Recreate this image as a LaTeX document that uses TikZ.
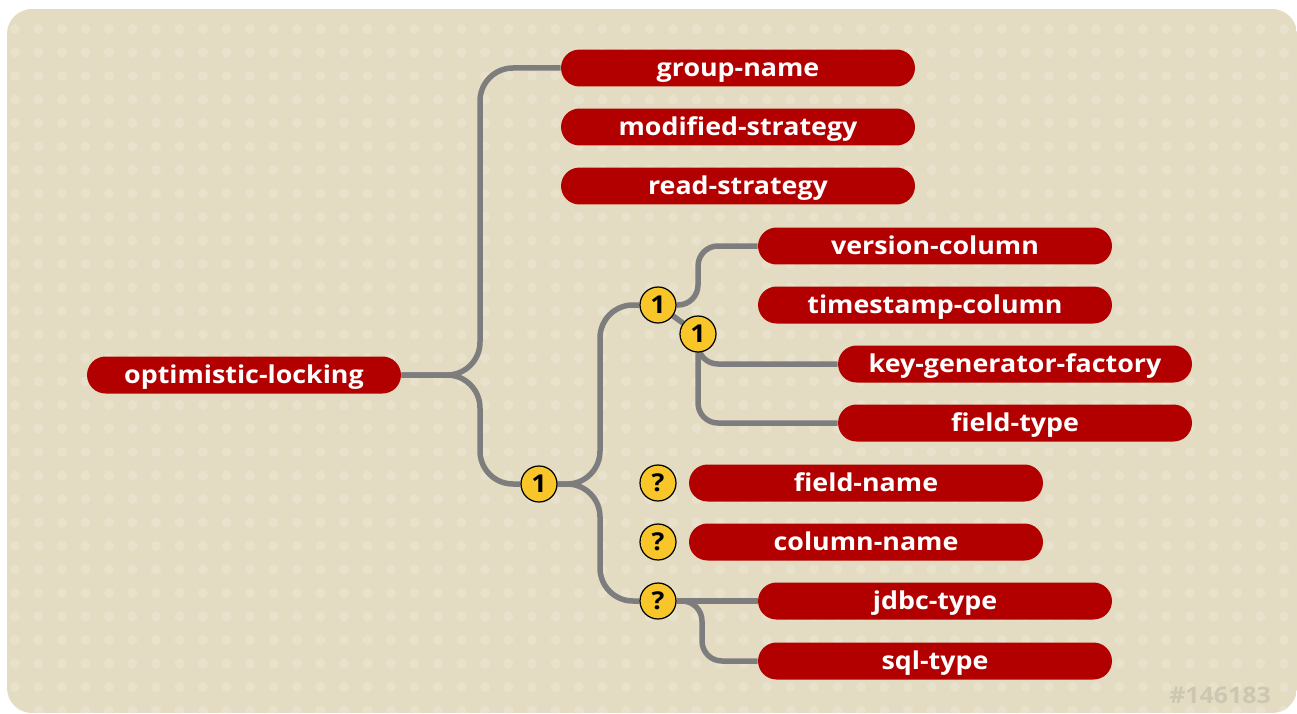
\documentclass[tikz,border=0pt]{standalone}
\usepackage{fontspec}
\setmainfont{Open Sans}[FakeStretch=1.09]
\usetikzlibrary{positioning}
\definecolor{paper}{RGB}{227,220,194}
\definecolor{paperdot}{RGB}{232,226,205}
\definecolor{elemred}{RGB}{178,0,0}
\definecolor{wiregray}{RGB}{125,125,125}
\definecolor{badgeyellow}{RGB}{248,198,40}
\definecolor{markgray}{RGB}{205,199,178}
\pgfdeclarelayer{backdrop}
\pgfdeclarelayer{wires}
\pgfsetlayers{backdrop,wires,main}
\tikzset{
  element/.style={fill=elemred, text=white, rounded corners=0.37cm,
    minimum width=7.08cm, minimum height=0.74cm, inner sep=0pt,
    text height=10.2pt, text depth=0pt,
    font=\fontsize{14}{16}\selectfont\bfseries},
  rootelement/.style={element, minimum width=6.28cm},
  badge/.style={circle, fill=badgeyellow, draw=black, line width=0.7pt,
    minimum size=0.72cm, inner sep=0pt, font=\fontsize{14}{16}\selectfont\bfseries},
  wire/.style={draw=wiregray, line width=0.11cm, rounded corners=0.66cm},
  shortwire/.style={draw=wiregray, line width=0.11cm, rounded corners=0.4cm}
}
\begin{document}
\begin{tikzpicture}[x=0.02cm, y=-0.02cm]
    \useasboundingbox (0,0) rectangle (1297,713);

    % Backdrop
    \begin{pgfonlayer}{backdrop}
    \begin{scope}
        \clip[rounded corners=0.5cm] (7,9) rectangle (1297,713);
        \fill[paper] (7,9) rectangle (1297,713);
        \foreach \i in {0,...,55}
            \foreach \j in {0,...,29}
                \fill[paperdot] (15+23.5*\i, 29+23.5*\j) circle (0.1cm);
    \end{scope}
    \end{pgfonlayer}

    % Elements
    \node[rootelement] (optlock) at (244,375) {optimistic-locking};
    \node[element] (groupname) at (738,68) {group-name};
    \node[element] (modstrategy) at (738,127) {modified-strategy};
    \node[element] (readstrategy) at (738,186) {read-strategy};
    \node[element] (versioncol) at (935,246) {version-column};
    \node[element] (timestampcol) at (935,305) {timestamp-column};
    \node[element] (keygen) at (1015,364) {key-generator-factory};
    \node[element] (fieldtype) at (1015,423) {field-type};
    \node[element] (fieldname) at (866,483) {field-name};
    \node[element] (columnname) at (866,542) {column-name};
    \node[element] (jdbctype) at (935,601) {jdbc-type};
    \node[element] (sqltype) at (935,661) {sql-type};

    % Badges
    \node[badge] (seqone) at (539,484) {1};
    \node[badge] (choiceone) at (658,305) {1};
    \node[badge] (innerone) at (698,334) {1};
    \node[badge] (optfield) at (658,483) {?};
    \node[badge] (optcolumn) at (658,542) {?};
    \node[badge] (opttype) at (658,601) {?};

    % Forks
    \coordinate (rootfork) at (480,375);
    \coordinate (seqfork) at (600,484);
    \coordinate (choicefork) at (698,305);
    \coordinate (typefork) at (702,601);

    % Wires
    \begin{pgfonlayer}{wires}
    \draw[wire] (optlock.east) -- (rootfork) |- (groupname.west);
    \draw[wire] (optlock.east) -- (rootfork) |- (seqone);
    \draw[wire] (seqone) -- (seqfork) |- (choiceone);
    \draw[wire] (seqone) -- (seqfork) |- (opttype);
    \draw[shortwire] (choiceone) -- (choicefork) |- (versioncol.west);
    \draw[shortwire] (choiceone) -- (innerone);
    \draw[shortwire] (innerone) |- (keygen.west);
    \draw[shortwire] (innerone) |- (fieldtype.west);
    \draw[shortwire] (opttype) -- (jdbctype.west);
    \draw[shortwire] (opttype) -- (typefork) |- (sqltype.west);
    \end{pgfonlayer}

    % Mark
    \node[text=markgray, font=\fontsize{13}{15}\selectfont\bfseries] (mark) at (1220,695) {\#146183};
\end{tikzpicture}
\end{document}
